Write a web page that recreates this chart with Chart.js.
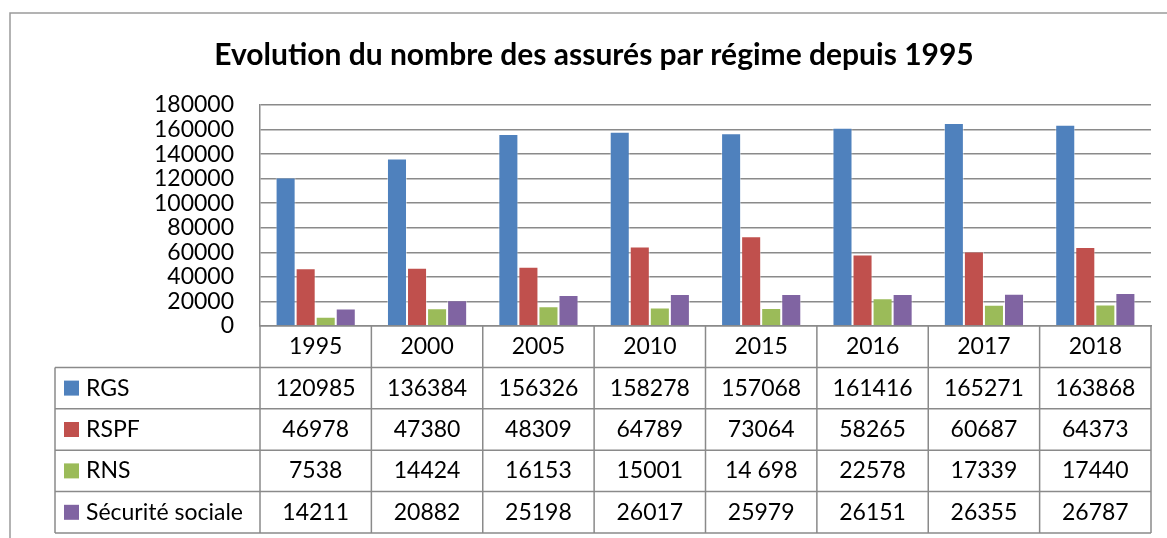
<!DOCTYPE html>
<html lang="fr">
<head>
<meta charset="UTF-8">
<meta name="viewport" content="width=device-width, initial-scale=1.0">
<title>Evolution du nombre des assurés par régime</title>
<script src="https://cdn.jsdelivr.net/npm/chart.js"></script>
<style>
    html, body { margin: 0; padding: 0; background: #fff; }
    #wrap { position: relative; width: 1167px; height: 538px; }
</style>
</head>
<body>
<div id="wrap"><canvas id="assuresChart"></canvas></div>
<script>
    // values as printed in the table under the chart
    const years = ['1995', '2000', '2005', '2010', '2015', '2016', '2017', '2018'];
    const seriesNames = ['RGS', 'RSPF', 'RNS', 'Sécurité sociale'];
    const rgs = ['120985', '136384', '156326', '158278', '157068', '161416', '165271', '163868'];
    const rspf = ['46978', '47380', '48309', '64789', '73064', '58265', '60687', '64373'];
    const rns = ['7538', '14424', '16153', '15001', '14 698', '22578', '17339', '17440'];
    const secu = ['14211', '20882', '25198', '26017', '25979', '26151', '26355', '26787'];
    const seriesColors = ['#4F81BD', '#C0504D', '#9BBB59', '#8064A2'];
    const yMax = 180000;
    const yStep = 20000;

    const rows = [rgs, rspf, rns, secu];
    const toNum = s => Number(s.replace(/\s/g, ''));

    const FONT = 'Lato';
    const GRID = '#8a8a8a';
    const ROW_H = 41.4;

    // draws the frame and the data table below the plot
    const tablePlugin = {
        id: 'dataTable',
        afterDraw(chart) {
            const ctx = chart.ctx;
            const area = chart.chartArea;
            const xs = chart.scales.x;
            const colW = (area.right - area.left) / years.length;
            const top = area.bottom;
            const bottom = top + ROW_H * 5;
            const legendLeft = 55;

            ctx.save();
            // outer frame (left + top)
            ctx.strokeStyle = '#9a9a9a';
            ctx.lineWidth = 1.5;
            ctx.beginPath();
            ctx.moveTo(10, 538);
            ctx.lineTo(10, 13);
            ctx.lineTo(1167, 13);
            ctx.stroke();

            ctx.strokeStyle = GRID;
            ctx.lineWidth = 1.5;
            ctx.beginPath();
            for (let k = 0; k <= years.length; k++) {
                const x = area.left + k * colW;
                ctx.moveTo(x, top);
                ctx.lineTo(x, bottom);
            }
            ctx.moveTo(legendLeft, top + ROW_H);
            ctx.lineTo(legendLeft, bottom);
            for (let r = 1; r <= 5; r++) {
                ctx.moveTo(legendLeft, top + r * ROW_H);
                ctx.lineTo(area.right, top + r * ROW_H);
            }
            ctx.stroke();

            ctx.font = '23px ' + FONT;
            ctx.textBaseline = 'middle';
            rows.forEach((row, r) => {
                const cy = top + (r + 1.5) * ROW_H;
                ctx.fillStyle = seriesColors[r];
                ctx.fillRect(64, cy - 7.5, 15, 15);
                ctx.fillStyle = '#000';
                ctx.textAlign = 'left';
                ctx.fillText(seriesNames[r], 86, cy);
                ctx.textAlign = 'center';
                row.forEach((v, i) => {
                    ctx.fillText(v, xs.getPixelForValue(i), cy);
                });
            });
            ctx.restore();
        }
    };

    const ctx = document.getElementById('assuresChart').getContext('2d');
    const chart = new Chart(ctx, {
        type: 'bar',
        data: {
            labels: years,
            datasets: rows.map((row, r) => ({
                label: seriesNames[r],
                data: row.map(toNum),
                backgroundColor: seriesColors[r],
                borderColor: 'rgba(255,255,255,0.45)',
                borderWidth: 1,
                categoryPercentage: 0.72,
                barPercentage: 1
            }))
        },
        options: {
            responsive: true,
            maintainAspectRatio: false,
            animation: false,
            layout: { padding: { left: 37, right: 16, top: 0, bottom: 0 } },
            plugins: {
                legend: { display: false },
                tooltip: { enabled: false },
                title: {
                    display: true,
                    text: 'Evolution du nombre des assurés par régime depuis 1995',
                    color: '#000',
                    font: { family: FONT, size: 30, weight: 'bold', lineHeight: 1.2 },
                    padding: { top: 37, bottom: 32 }
                }
            },
            scales: {
                x: {
                    grid: { display: false, drawTicks: false },
                    border: { display: true, color: GRID, width: 1.5 },
                    ticks: { color: '#000', font: { family: FONT, size: 23 }, padding: 7, maxRotation: 0 },
                    afterFit: s => { s.height = 212; }
                },
                y: {
                    min: 0,
                    max: yMax,
                    grid: { color: GRID, lineWidth: 1.5, drawTicks: false },
                    border: { display: true, color: GRID, width: 1.5 },
                    ticks: {
                        stepSize: yStep,
                        autoSkip: false,
                        color: '#000',
                        font: { family: FONT, size: 23 },
                        padding: 26,
                        callback: v => String(v)
                    },
                    afterFit: s => { s.width = 223; }
                }
            }
        },
        plugins: [tablePlugin]
    });
</script>
</body>
</html>
